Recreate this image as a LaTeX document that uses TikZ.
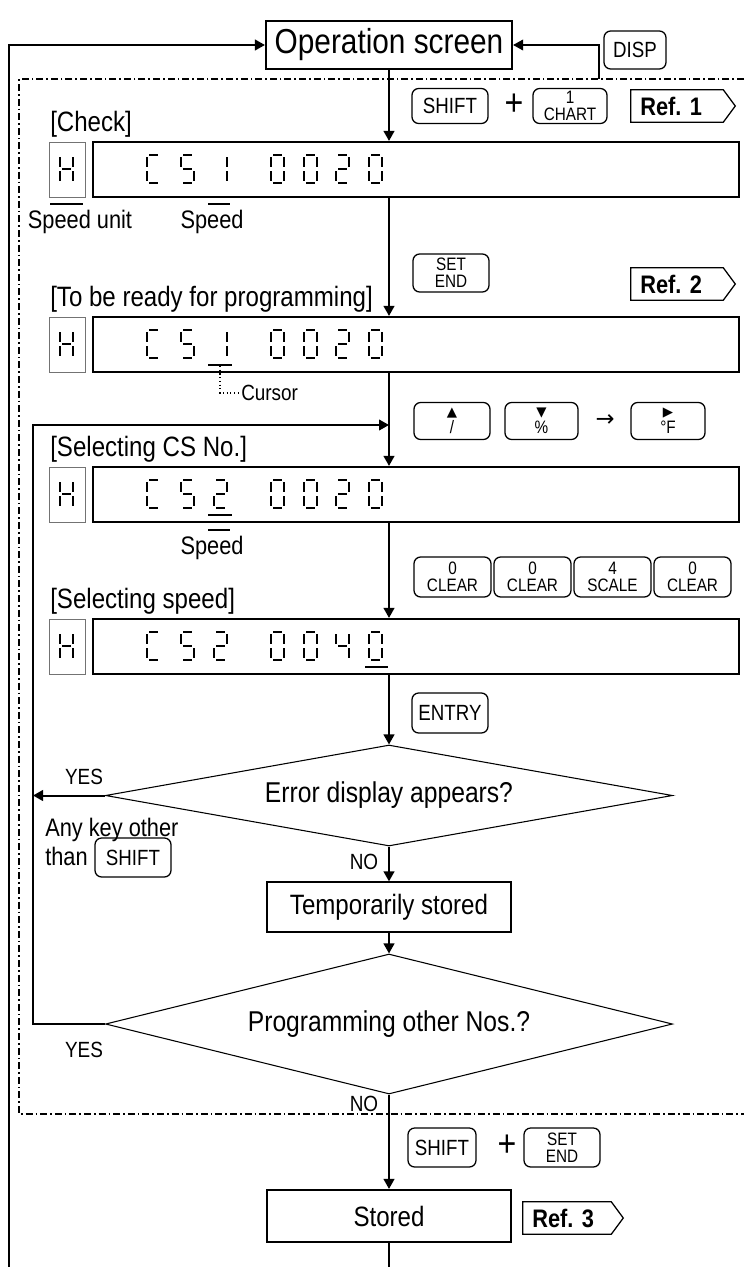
\documentclass[tikz,border=0pt]{standalone}
\usepackage{fontspec}
\setmainfont{Liberation Sans}[FakeStretch=0.86]
\newfontfamily\keyf{Liberation Sans}[FakeStretch=0.85]
\newfontfamily\symf{DejaVu Sans}
\usetikzlibrary{arrows.meta,shapes.geometric,calc}
\frenchspacing

\tikzset{
  wh/.style 2 args={minimum width=#1*0.75pt,minimum height=#2*0.75pt},
  thickbox/.style={draw, line width=1.6pt, inner sep=0pt},
  thinbox/.style={draw, line width=0.9pt, inner sep=0pt},
  hbox/.style={draw=black!55, line width=0.7pt, inner sep=0pt},
  key/.style={draw, rounded corners=5pt, line width=0.95pt, inner sep=0pt, align=center,
    font=\keyf\fontsize{16.5}{16.5}\selectfont},
  key2/.style={key, font=\keyf\fontsize{13.5}{12.5}\selectfont},
  reftag/.style={inner xsep=7pt, inner ysep=0pt, minimum height=24pt, text width=#1,
    align=left, font=\bfseries\fontsize{19}{19}\selectfont},
  tagline/.style={line width=0.95pt, line join=miter},
  lbl/.style={inner sep=0pt, font=\fontsize{21}{21}\selectfont, anchor=base west},
  small/.style={inner sep=0pt, font=\fontsize{19}{19}\selectfont},
  yn/.style={inner sep=0pt, font=\fontsize{16.5}{16.5}\selectfont},
  plus/.style={inner sep=0pt, font=\fontsize{28}{28}\selectfont},
  dec/.style={draw, diamond, inner sep=0pt, line width=0.8pt, font=\fontsize{21.5}{21.5}\selectfont},
  flow/.style={line width=1.5pt, -{Triangle[length=7.5pt,width=8pt]}},
  flowthin/.style={line width=1pt, -{Triangle[length=7.5pt,width=8pt]}},
  plain/.style={line width=1.5pt},
  ul/.style={line width=1.6pt},
  seg/.style={line width=2pt},
  dashdot/.style={line width=0.9pt, dash pattern=on 5.25pt off 2.25pt on 1.2pt off 2.25pt},
  cur/.style={line width=0.8pt, dotted},
}

% seven-segment pieces (x,y = top-left of a 13x28 px cell)
\newcommand\sgA[2]{\draw[seg] (#1+2,#2) -- (#1+11,#2);}
\newcommand\sgB[2]{\draw[seg] (#1+13,#2+2) -- (#1+13,#2+12);}
\newcommand\sgC[2]{\draw[seg] (#1+13,#2+16) -- (#1+13,#2+26);}
\newcommand\sgD[2]{\draw[seg] (#1+2,#2+28) -- (#1+11,#2+28);}
\newcommand\sgE[2]{\draw[seg] (#1,#2+16) -- (#1,#2+26);}
\newcommand\sgF[2]{\draw[seg] (#1,#2+2) -- (#1,#2+12);}
\newcommand\sgG[2]{\draw[seg] (#1+2,#2+14) -- (#1+11,#2+14);}
\newcommand\dgC[2]{\sgA{#1}{#2}\sgD{#1}{#2}\sgE{#1}{#2}\sgF{#1}{#2}}
\newcommand\dgS[2]{\sgA{#1}{#2}\sgF{#1}{#2}\sgG{#1}{#2}\sgC{#1}{#2}\sgD{#1}{#2}}
\newcommand\dgI[2]{\sgB{#1}{#2}\sgC{#1}{#2}}
\newcommand\dgII[2]{\sgA{#1}{#2}\sgB{#1}{#2}\sgG{#1}{#2}\sgE{#1}{#2}\sgD{#1}{#2}}
\newcommand\dgO[2]{\sgA{#1}{#2}\sgB{#1}{#2}\sgC{#1}{#2}\sgD{#1}{#2}\sgE{#1}{#2}\sgF{#1}{#2}}
\newcommand\dgIV[2]{\sgF{#1}{#2}\sgG{#1}{#2}\sgB{#1}{#2}\sgC{#1}{#2}}
\newcommand\dgH[2]{\sgB{#1}{#2}\sgC{#1}{#2}\sgE{#1}{#2}\sgF{#1}{#2}\sgG{#1}{#2}}
\newcommand\tagpath[1]{\draw[tagline] (#1.north west) -- (#1.north east) -- ([xshift=9pt]#1.east) -- (#1.south east) -- (#1.south west) -- cycle;}
\newcommand\tri[1]{{\symf\fontsize{10}{10}\selectfont #1}}

\begin{document}
\begin{tikzpicture}[x=0.75pt,y=-0.75pt]
\useasboundingbox (0,0) rectangle (744,1267);
\coordinate (mx) at (389,0);
\coordinate (lp) at (33,425);
\coordinate (lpend) at (389,425);

% top
\node[thickbox, wh={246}{48}, font=\fontsize{26}{26}\selectfont] (op) at (389,45) {Operation screen};
\node[key, wh={62}{38}] (disp) at (635,50) {DISP};
\coordinate (dispin) at (599,79);
\draw[flowthin] (dispin) |- (op.east);
\coordinate (lb) at (9,1267);
\draw[flow] (lb) |- (op.west);
\draw[dashdot] (744,79) -- (19,79) -- (19,1114) -- (744,1114);

% keys row 1
\node[key, wh={76}{35}] (k1s) at (450,106) {SHIFT};
\node[plus] (p1) at (514,105) {+};
\node[key2, wh={74}{35}] (k1c) at (570,106) {1\\CHART};
\node[reftag=55pt] (ref1) at (677,106) {Ref. 1};
\tagpath{ref1}

% row 1 display
\node[lbl] (lcheck) at (50,131) {[Check]};
\node[hbox, wh={36}{55}] (h1) at (67,169.5) {};
\node[thickbox, wh={646}{55}] (d1) at (416,169.5) {};
\dgH{60}{155}
\dgC{147}{155}\dgS{181}{155}\dgI{214}{155}
\dgO{271}{155}\dgO{304}{155}\dgII{336}{155}\dgO{369}{155}
\draw[ul] (50,204) -- (83,204);
\draw[ul] (208,204) -- (230,204);
\node[small] (su) at (80,222) {Speed unit};
\node[small] (sp1) at (212,222) {Speed};
\draw[flow] (op.south) -- (op.south |- d1.north);

% SET END
\node[key2, wh={76}{38}] (kse) at (451,273) {SET\\END};
\node[reftag=55pt] (ref2) at (677,284) {Ref. 2};
\tagpath{ref2}

% row 2
\node[lbl] (lready) at (50,306) {[To be ready for programming]};
\node[hbox, wh={36}{55}] (h2) at (67,344.5) {};
\node[thickbox, wh={646}{55}] (d2) at (416,344.5) {};
\dgH{60}{330}
\dgC{147}{330}\dgS{181}{330}\dgI{214}{330}
\dgO{271}{330}\dgO{304}{330}\dgII{336}{330}\dgO{369}{330}
\draw[ul] (208,365) -- (232,365);
\draw[flow] (d1.south -| mx) -- (d2.north -| mx);
\node[inner sep=0pt, anchor=west, font=\fontsize{16.5}{16.5}\selectfont] (cursor) at (241,393) {Cursor};
\coordinate (curs) at (220,366);
\draw[cur] (curs) |- (cursor.west);

% keys row 2
\node[key2, wh={76}{37}] (kup) at (452,421) {\tri{▲}\\/};
\node[key2, wh={73}{37}] (kdn) at (541.5,421) {\tri{▼}\\\%};
\node[inner sep=0pt, font=\symf\fontsize{17}{17}\selectfont] (arr) at (605,421) {→};
\node[key2, wh={74}{37}] (krt) at (668,421) {\tri{▶}\\°F};

% row 3
\node[lbl] (lsel) at (50,456) {[Selecting CS No.]};
\node[hbox, wh={36}{55}] (h3) at (67,494.5) {};
\node[thickbox, wh={646}{55}] (d3) at (416,494.5) {};
\dgH{60}{480}
\dgC{147}{480}\dgS{181}{480}\dgII{214}{480}
\dgO{271}{480}\dgO{304}{480}\dgII{336}{480}\dgO{369}{480}
\draw[ul] (208,515) -- (232,515);
\draw[ul] (208,530) -- (230,530);
\node[small] (sp3) at (212,548) {Speed};
\draw[flow] (d2.south -| mx) -- (d3.north -| mx);

% CLEAR keys
\node[key2, wh={77}{40}] (c1) at (452.5,577) {0\\CLEAR};
\node[key2, wh={77}{40}] (c2) at (532.5,577) {0\\CLEAR};
\node[key2, wh={77}{40}] (c3) at (612.5,577) {4\\SCALE};
\node[key2, wh={77}{40}] (c4) at (692.5,577) {0\\CLEAR};

% row 4
\node[lbl] (lspd) at (50,608) {[Selecting speed]};
\node[hbox, wh={36}{55}] (h4) at (67,646.5) {};
\node[thickbox, wh={646}{55}] (d4) at (416,646.5) {};
\dgH{60}{632}
\dgC{147}{632}\dgS{181}{632}\dgII{214}{632}
\dgO{271}{632}\dgO{304}{632}\dgIV{336}{632}\dgO{369}{632}
\draw[ul] (365,667) -- (388,667);
\draw[flow] (d3.south -| mx) -- (d4.north -| mx);

% ENTRY and decision 1
\node[key, wh={76}{40}] (kent) at (450,713) {ENTRY};
\node[dec, aspect=5.6, wh={567}{101}] (dia1) at (389,795.5) {Error display appears?};
\draw[flow] (d4.south -| mx) -- (dia1.north);
\node[yn] (yes1) at (84,777) {YES};
\draw[flow] (dia1.west) -- (dia1.west -| lp);
\node[small, align=left, anchor=north west, font=\fontsize{19}{22}\selectfont] (anyk) at (45,818) {Any key other\\than};
\node[key, wh={76}{39}] (kany) at (133,857.5) {SHIFT};
\node[yn] (no1) at (364,862) {NO};

% temp stored
\node[thinbox, wh={244}{50}, font=\fontsize{21}{21}\selectfont] (temp) at (389,907) {Temporarily stored};
\draw[flow] (dia1.south) -- (temp.north);

% decision 2
\node[dec, aspect=4.1, wh={567}{140}] (dia2) at (389,1024) {Programming other Nos.?};
\draw[flow] (temp.south) -- (dia2.north);
\node[yn] (yes2) at (84,1050) {YES};
\node[yn] (no2) at (364,1104) {NO};
\draw[flow] (dia2.west) -| (lp) -- (lpend);

% final
\node[key, wh={68}{39}] (kbs) at (442,1147.5) {SHIFT};
\node[plus] (p2) at (507,1146) {+};
\node[key2, wh={76}{39}] (kbse) at (562,1147.5) {SET\\END};
\node[thickbox, wh={244}{52}, font=\fontsize{21}{21}\selectfont] (stored) at (389,1216) {Stored};
\draw[flow] (dia2.south) -- (stored.north);
\node[reftag=52pt] (ref3) at (567,1218) {Ref. 3};
\tagpath{ref3}
\coordinate (sb) at (389,1267);
\draw[plain] (stored.south) -- (sb);
\end{tikzpicture}
\end{document}
